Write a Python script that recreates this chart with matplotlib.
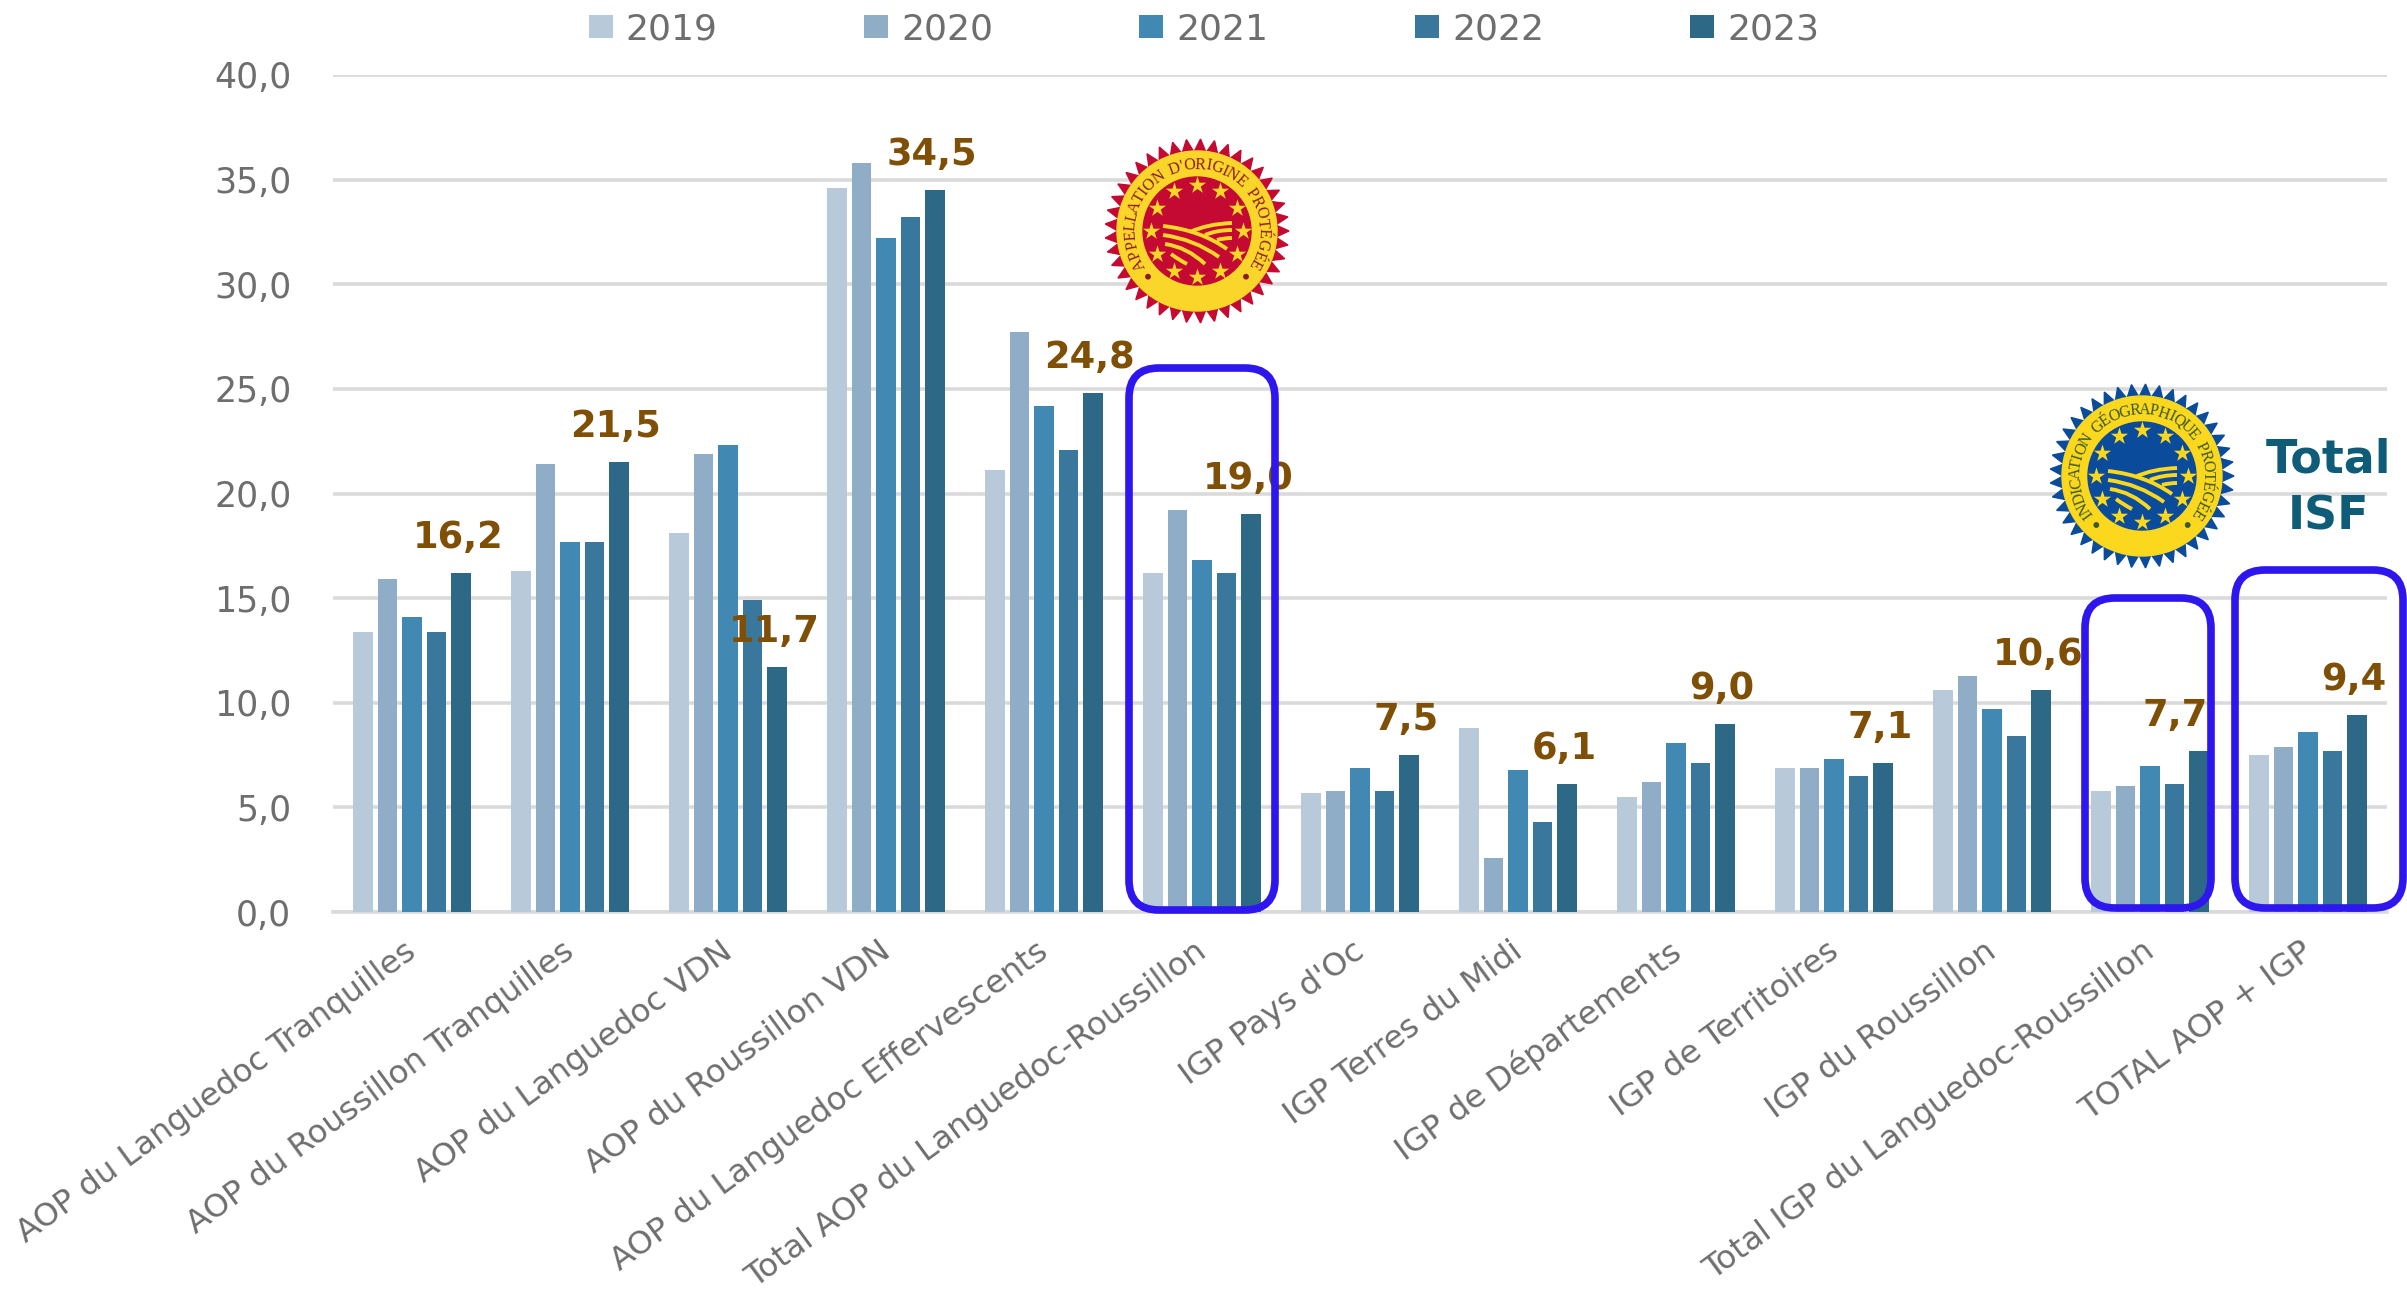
# -*- coding: utf-8 -*-
import numpy as np
import matplotlib
matplotlib.use('Agg')
import matplotlib.pyplot as plt
from matplotlib.patches import Circle, FancyBboxPatch, PathPatch, Polygon
from matplotlib.path import Path
from matplotlib.transforms import ScaledTranslation

# data
categories = ['AOP du Languedoc Tranquilles', 'AOP du Roussillon Tranquilles', 'AOP du Languedoc VDN',
              'AOP du Roussillon VDN', 'AOP du Languedoc Effervescents', 'Total AOP du Languedoc-Roussillon',
              "IGP Pays d'Oc", 'IGP Terres du Midi', 'IGP de Départements', 'IGP de Territoires',
              'IGP du Roussillon', 'Total IGP du Languedoc-Roussillon', 'TOTAL AOP + IGP']
years = ['2019', '2020', '2021', '2022', '2023']
v2019 = [13.4, 16.3, 18.1, 34.6, 21.1, 16.2, 5.7, 8.8, 5.5, 6.9, 10.6, 5.8, 7.5]
v2020 = [15.9, 21.4, 21.9, 35.8, 27.7, 19.2, 5.8, 2.6, 6.2, 6.9, 11.3, 6.0, 7.9]
v2021 = [14.1, 17.7, 22.3, 32.2, 24.2, 16.8, 6.9, 6.8, 8.1, 7.3, 9.7, 7.0, 8.6]
v2022 = [13.4, 17.7, 14.9, 33.2, 22.1, 16.2, 5.8, 4.3, 7.1, 6.5, 8.4, 6.1, 7.7]
v2023 = [16.2, 21.5, 11.7, 34.5, 24.8, 19.0, 7.5, 6.1, 9.0, 7.1, 10.6, 7.7, 9.4]
series = [v2019, v2020, v2021, v2022, v2023]
colors = ['#B8CAD9', '#8FADC6', '#4188B3', '#39789C', '#2E6887']

W, H = 2407, 1296
GREY = '#6E6E6E'
BROWN = '#7F4F06'
plt.rcParams['font.family'] = ['DejaVu Sans']

fig = plt.figure(figsize=(W / 100, H / 100), dpi=100)
ax = fig.add_axes([333 / W, 1 - 912 / H, (2387 - 333) / W, (912 - 75) / H])

# grouped bars
x = np.arange(len(categories))
step = 0.155
for i, vals in enumerate(series):
    ax.bar(x + (i - 2) * step, vals, width=0.125, color=colors[i], label=years[i], zorder=3)

ax.set_xlim(-0.5, len(categories) - 0.5)
ax.set_ylim(0, 40)
ax.set_yticks(np.arange(0, 45, 5))
ax.set_yticklabels([f'{t:.1f}'.replace('.', ',') for t in np.arange(0, 45, 5)], fontsize=25, color=GREY)
ax.set_xticks(x)
ax.set_xticklabels(categories, fontsize=23.2, color=GREY, rotation=36.3, ha='right', rotation_mode='anchor')
ax.tick_params(axis='x', length=0, pad=17)
ax.tick_params(axis='y', length=0, pad=30)
# labels sit a little left of the group centre
for lab in ax.get_xticklabels():
    lab.set_transform(lab.get_transform() + ScaledTranslation(-8 / 100, 0, fig.dpi_scale_trans))
ax.grid(axis='y', color='#DADADA', linewidth=2.6, zorder=0)
for side in ['top', 'right', 'left']:
    ax.spines[side].set_visible(False)
ax.spines['bottom'].set_color('#DADADA')
ax.spines['bottom'].set_linewidth(2.6)

# 2023 value above the last bar of each group, the IGP total is moved left to stay in its box
for i, v in enumerate(v2023):
    xpos = i + 2 * step - 0.02
    if i == 11:
        xpos -= 0.13
    ax.text(xpos, v + 1.7, f'{v:.1f}'.replace('.', ','), ha='center', va='center',
            fontsize=26.5, fontweight='bold', color=BROWN, zorder=4)

fig.legend(loc='upper left', bbox_to_anchor=(556 / W, 1 + 20 / H), ncol=5, frameon=False, fontsize=26,
           labelcolor=GREY, handlelength=0.67, handleheight=0.6, handletextpad=0.36, columnspacing=4.05)

# overlay in pixel coordinates for the boxes, the seals and the ISF title
over = fig.add_axes([0, 0, 1, 1])
over.set_xlim(0, W)
over.set_ylim(H, 0)
over.axis('off')
over.patch.set_alpha(0)


def box(x0, y0, x1, y1):
    over.add_patch(FancyBboxPatch((x0 + 30, y0 + 30), x1 - x0 - 60, y1 - y0 - 60,
                                  boxstyle='round,pad=30,rounding_size=30', fill=False,
                                  edgecolor='#2E17EE', linewidth=5.5, zorder=5))


box(1129, 368, 1275, 910)
box(2085, 598, 2211, 908)
box(2235, 570, 2403, 908)

# field stripes of the seal: (start, control, end) around the centre
stripes = [((-34, -5), (3, -1), (30, 18)), ((-34, 4), (-3, 8), (22, 26)), ((-32, 13), (-10, 16), (8, 33)),
           ((-26, 23), (-18, 29), (-10, 33)), ((-7, 1), (10, -7), (35, -8)), ((8, 4), (20, -1), (35, -1)),
           ((20, 9), (27, 7), (35, 7))]
narrow = {'I': 0.55, "'": 0.4, ' ': 0.6, 'L': 0.9, 'Q': 1.2, 'D': 1.15, 'O': 1.2, 'G': 1.15, 'N': 1.15, 'H': 1.15}


def seal(cx, cy, dark, yellow, txt_color, label, start, end):
    # teeth round the edge
    n = 41
    ang = np.linspace(0, 2 * np.pi, 2 * n, endpoint=False)
    rad = np.where(np.arange(2 * n) % 2 == 0, 92, 79)
    over.add_patch(Polygon(np.c_[cx + rad * np.cos(ang), cy + rad * np.sin(ang)], color=dark, zorder=6))
    over.add_patch(Circle((cx, cy), 80, color=yellow, zorder=6))
    over.add_patch(Circle((cx, cy), 54, color=dark, zorder=6))
    # 12 stars
    sa = np.arange(12) * np.pi / 6
    over.scatter(cx + 46 * np.cos(sa), cy + 46 * np.sin(sa), marker='*', s=170, color=yellow,
                 linewidths=0, zorder=7)
    for a, b, c in stripes:
        p = Path([(cx + a[0], cy + a[1]), (cx + b[0], cy + b[1]), (cx + c[0], cy + c[1])],
                 [Path.MOVETO, Path.CURVE3, Path.CURVE3])
        over.add_patch(PathPatch(p, fill=False, edgecolor=yellow, linewidth=2.8, capstyle='butt', zorder=7))
    # text on the ring, one letter at a time, narrow letters get less room
    w = np.array([narrow.get(ch, 1.0) for ch in label])
    pos = np.cumsum(w) - w / 2
    angles = start + (end - start) * pos / w.sum()
    for ch, a in zip(label, angles):
        t = np.deg2rad(a)
        over.text(cx + 66 * np.cos(t), cy - 66 * np.sin(t), ch, rotation=a - 90, ha='center', va='center',
                  rotation_mode='anchor', fontsize=11.5, family='Liberation Serif', color=txt_color, zorder=7)
    for a in [start + 9, end - 9]:
        t = np.deg2rad(a)
        over.add_patch(Circle((cx + 67 * np.cos(t), cy - 67 * np.sin(t)), 2.2, color=txt_color, zorder=7))


seal(1197, 231, '#C40A32', '#FBD62A', '#8E1A1E', "APPELLATION D'ORIGINE PROTÉGÉE", 214, -34)
seal(2142, 476, '#0A4C9B', '#FBD71E', '#3B5A2A', 'INDICATION GÉOGRAPHIQUE PROTÉGÉE', 218, -38)

over.text(2328, 460, 'Total', ha='center', va='center', fontsize=33, fontweight='bold', color='#0F5C78', zorder=6)
over.text(2328, 517, 'ISF', ha='center', va='center', fontsize=33, fontweight='bold', color='#0F5C78', zorder=6)

fig.savefig('out.png', dpi=100)
